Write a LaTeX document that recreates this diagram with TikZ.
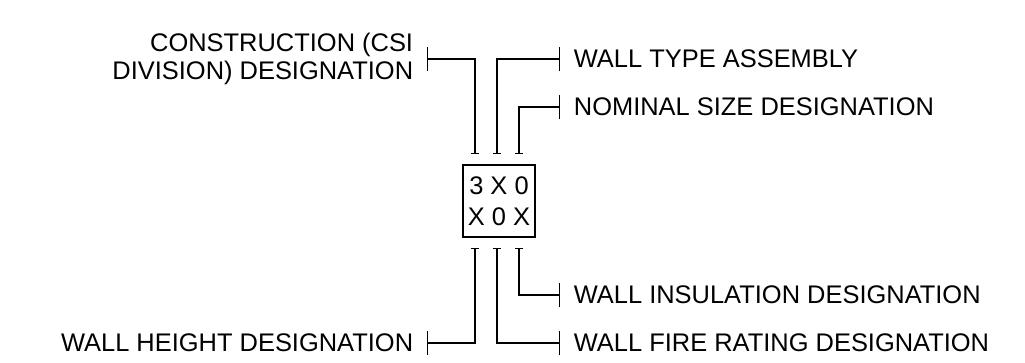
\documentclass[tikz,border=0pt]{standalone}
\usepackage{fontspec}
\setmainfont{Liberation Sans}
\usetikzlibrary{arrows.meta,calc}
\begin{document}
\begin{tikzpicture}[line width=1pt,
  lbl/.style={inner sep=0pt, inner xsep=0.33cm, font=\fontsize{18.1}{20}\selectfont},
  leader/.style={{Bar[width=0.2cm]}-{Bar[width=0.6cm]}}]
\useasboundingbox (0,0) rectangle (25.625,-9.075);
\node[draw, minimum width=1.8cm, minimum height=1.8cm, inner sep=0pt, align=center, font=\fontsize{18.1}{22}\selectfont] (tag) at (12.475,-5.025) {3 X 0\\X 0 X};
\node[lbl, anchor=east, align=right] (csi) at (10.675,-1.475) {CONSTRUCTION (CSI\\DIVISION) DESIGNATION};
\node[lbl, anchor=west] (type) at (14,-1.475) {WALL TYPE ASSEMBLY};
\node[lbl, anchor=west] (size) at (14,-2.675) {NOMINAL SIZE DESIGNATION};
\node[lbl, anchor=west] (insul) at (14,-7.375) {WALL INSULATION DESIGNATION};
\node[lbl, anchor=east] (height) at (10.675,-8.575) {WALL HEIGHT DESIGNATION};
\node[lbl, anchor=west] (fire) at (14,-8.575) {WALL FIRE RATING DESIGNATION};
\draw[leader] ($(tag.north)+(-0.6,0.25)$) |- (csi.east);
\draw[leader] ($(tag.north)+(-0.05,0.25)$) |- (type.west);
\draw[leader] ($(tag.north)+(0.5,0.25)$) |- (size.west);
\draw[leader] ($(tag.south)+(-0.6,-0.25)$) |- (height.east);
\draw[leader] ($(tag.south)+(-0.05,-0.25)$) |- (fire.west);
\draw[leader] ($(tag.south)+(0.5,-0.25)$) |- (insul.west);
\end{tikzpicture}
\end{document}
